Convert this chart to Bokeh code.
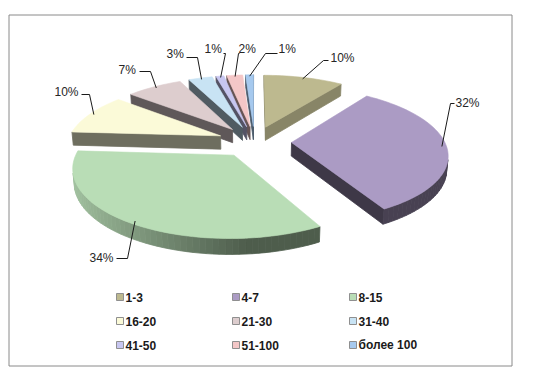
import numpy as np
from bokeh.plotting import figure
from bokeh.models import Range1d
from bokeh.embed import file_html
from bokeh.resources import INLINE
from bokeh.core.properties import value

# ---------------- data ----------------
categories = ["1-3", "4-7", "8-15", "16-20", "21-30", "31-40", "41-50", "51-100", "более 100"]
shares = [10, 32, 34, 10, 7, 3, 1, 2, 1]
pct_labels = ["10%", "32%", "34%", "10%", "7%", "3%", "1%", "2%", "1%"]

# ---------------- style ----------------
top_colors = ["#bdb98f", "#ab9bc4", "#b9ddb6", "#fbfad8", "#ddcdce",
              "#c8e3f4", "#c7c6f0", "#f4c7c7", "#a6c9ee"]
radial_shade = [0.72, 0.36, 0.42, 0.44, 0.43, 0.40, 0.42, 0.42, 0.45]

# label layout (text x, y centre) and leader elbow points, in picture pixels
label_text_xy = [(330, 57), (455, 102), (89, 257), (54, 91), (118, 69),
                 (166, 53), (204, 48), (238, 48), (278, 48)]
label_elbow = [[(323, 60), (328, 60)], [(450, 103), (454, 103)],
               [(127, 258), (116, 258)], [(89, 94), (81, 94)],
               [(150, 71), (139, 71)], [(197, 57), (186, 57)],
               [(225, 53), (223, 53)], [(238, 53), (239, 53)],
               [(265, 53), (277, 53)]]

# 3D pie geometry (pixels)
CX, CY = 254.0, 141.0
R, E, H = 153.0, 37.0, 15.0
PHI = np.radians(25.0)
D = 845.0


def shade(hex_color, f):
    h = hex_color.lstrip("#")
    r, g, b = (int(h[i:i + 2], 16) for i in (0, 2, 4))
    return "#%02x%02x%02x" % tuple(int(max(0, min(255, round(c * f)))) for c in (r, g, b))


def project(X, Y, Z):
    w = Z * np.cos(PHI) + Y * np.sin(PHI)
    v = Y * np.cos(PHI) - Z * np.sin(PHI)
    s = D / (D - w)
    return CX + X * s, CY - v * s, w


def slice_point(mid, theta, r, y):
    X = E * np.sin(mid) + r * np.sin(theta)
    Z = -(E * np.cos(mid) + r * np.cos(theta))
    return project(X, y, Z)


def signed_area(xs, ys):
    xs = np.asarray(xs); ys = np.asarray(ys)
    return 0.5 * np.sum(xs * np.roll(ys, -1) - np.roll(xs, -1) * ys)


total = float(sum(shares))
bounds = np.concatenate([[0], np.cumsum(shares)]) / total * 2 * np.pi

p = figure(width=520, height=372, output_backend="svg", toolbar_location=None,
           x_range=Range1d(0, 520), y_range=Range1d(372, 0),
           min_border_left=0, min_border_right=0, min_border_top=0, min_border_bottom=0)
p.xaxis.visible = False
p.yaxis.visible = False
p.xgrid.visible = False
p.ygrid.visible = False
p.outline_line_color = None
p.background_fill_color = "white"
p.border_fill_color = "white"

# chart border
p.quad(left=[8.5], right=[511.5], top=[14.5], bottom=[365.5], fill_color=None,
       line_color="#8a8a8a", line_width=1)

# build all slices, sort back to front
slices = []
for i, sh in enumerate(shares):
    a0, a1 = bounds[i], bounds[i + 1]
    mid = 0.5 * (a0 + a1)
    _, _, wmid = slice_point(mid, mid, R * 0.5, 0)
    slices.append((wmid, i, a0, a1, mid))
slices.sort()

for wmid, i, a0, a1, mid in slices:
    col = top_colors[i]
    n = max(4, int(np.degrees(a1 - a0) / 2))
    th = np.linspace(a0, a1, n + 1)
    polys_x, polys_y, fills = [], [], []
    # radial walls
    for edge in (a0, a1):
        p1 = slice_point(mid, edge, 0, 0)
        p2 = slice_point(mid, edge, R, 0)
        p3 = slice_point(mid, edge, R, -H)
        p4 = slice_point(mid, edge, 0, -H)
        xs = [p1[0], p2[0], p3[0], p4[0]]
        ys = [p1[1], p2[1], p3[1], p4[1]]
        area = signed_area(xs, ys)
        visible = area < 0 if edge == a0 else area > 0
        if visible:
            polys_x.append(xs); polys_y.append(ys)
            fills.append(shade(col, radial_shade[i]))
    # outer curved wall
    for k in range(n):
        t0, t1 = th[k], th[k + 1]
        q1 = slice_point(mid, t0, R, 0)
        q2 = slice_point(mid, t1, R, 0)
        q3 = slice_point(mid, t1, R, -H)
        q4 = slice_point(mid, t0, R, -H)
        xs = [q1[0], q2[0], q3[0], q4[0]]
        ys = [q1[1], q2[1], q3[1], q4[1]]
        if signed_area(xs, ys) < 0:
            tm = np.degrees(0.5 * (t0 + t1))
            f = 0.42 + 0.46 * max(0.0, np.cos(np.radians(tm - 265)))
            polys_x.append(xs); polys_y.append(ys)
            fills.append(shade(col, f))
    if polys_x:
        p.patches(polys_x, polys_y, fill_color=fills, line_color=fills, line_width=0.8)
    # top face
    ap = slice_point(mid, 0, 0, 0)
    arc = [slice_point(mid, t, R, 0) for t in th]
    tx = [ap[0]] + [a[0] for a in arc]
    ty = [ap[1]] + [a[1] for a in arc]
    p.patch(tx, ty, fill_color=col, line_color=col, line_width=0.6)

# leader lines and percentage labels
for i in range(len(shares)):
    mid = 0.5 * (bounds[i] + bounds[i + 1])
    sx, sy, _ = slice_point(mid, mid, R * 0.97, 0)
    xs = [sx] + [e[0] for e in label_elbow[i]]
    ys = [sy] + [e[1] for e in label_elbow[i]]
    p.line(xs, ys, line_color="#1a1a1a", line_width=1)
p.text(x=[t[0] for t in label_text_xy], y=[t[1] for t in label_text_xy], text=pct_labels,
       text_font=value("Liberation Sans"), text_font_size="12px", text_color="#262626",
       text_baseline="middle", text_align="left")

# legend (3 columns)
leg_cols = [116, 232, 349]
leg_rows = [296.5, 320.5, 344.5]
lx = [leg_cols[k % 3] for k in range(len(categories))]
ly = [leg_rows[k // 3] for k in range(len(categories))]
p.rect(x=[v + 3.5 for v in lx], y=ly, width=7, height=7, fill_color=top_colors,
       line_color="#8f8f8f", line_width=1)
p.text(x=[v + 9 for v in lx], y=ly, text=categories,
       text_font=value("Liberation Sans"), text_font_size="12px", text_font_style="bold",
       text_color="#1a1a1a", text_baseline="middle", text_align="left")

open("out.html", "w").write(file_html(p, INLINE))
